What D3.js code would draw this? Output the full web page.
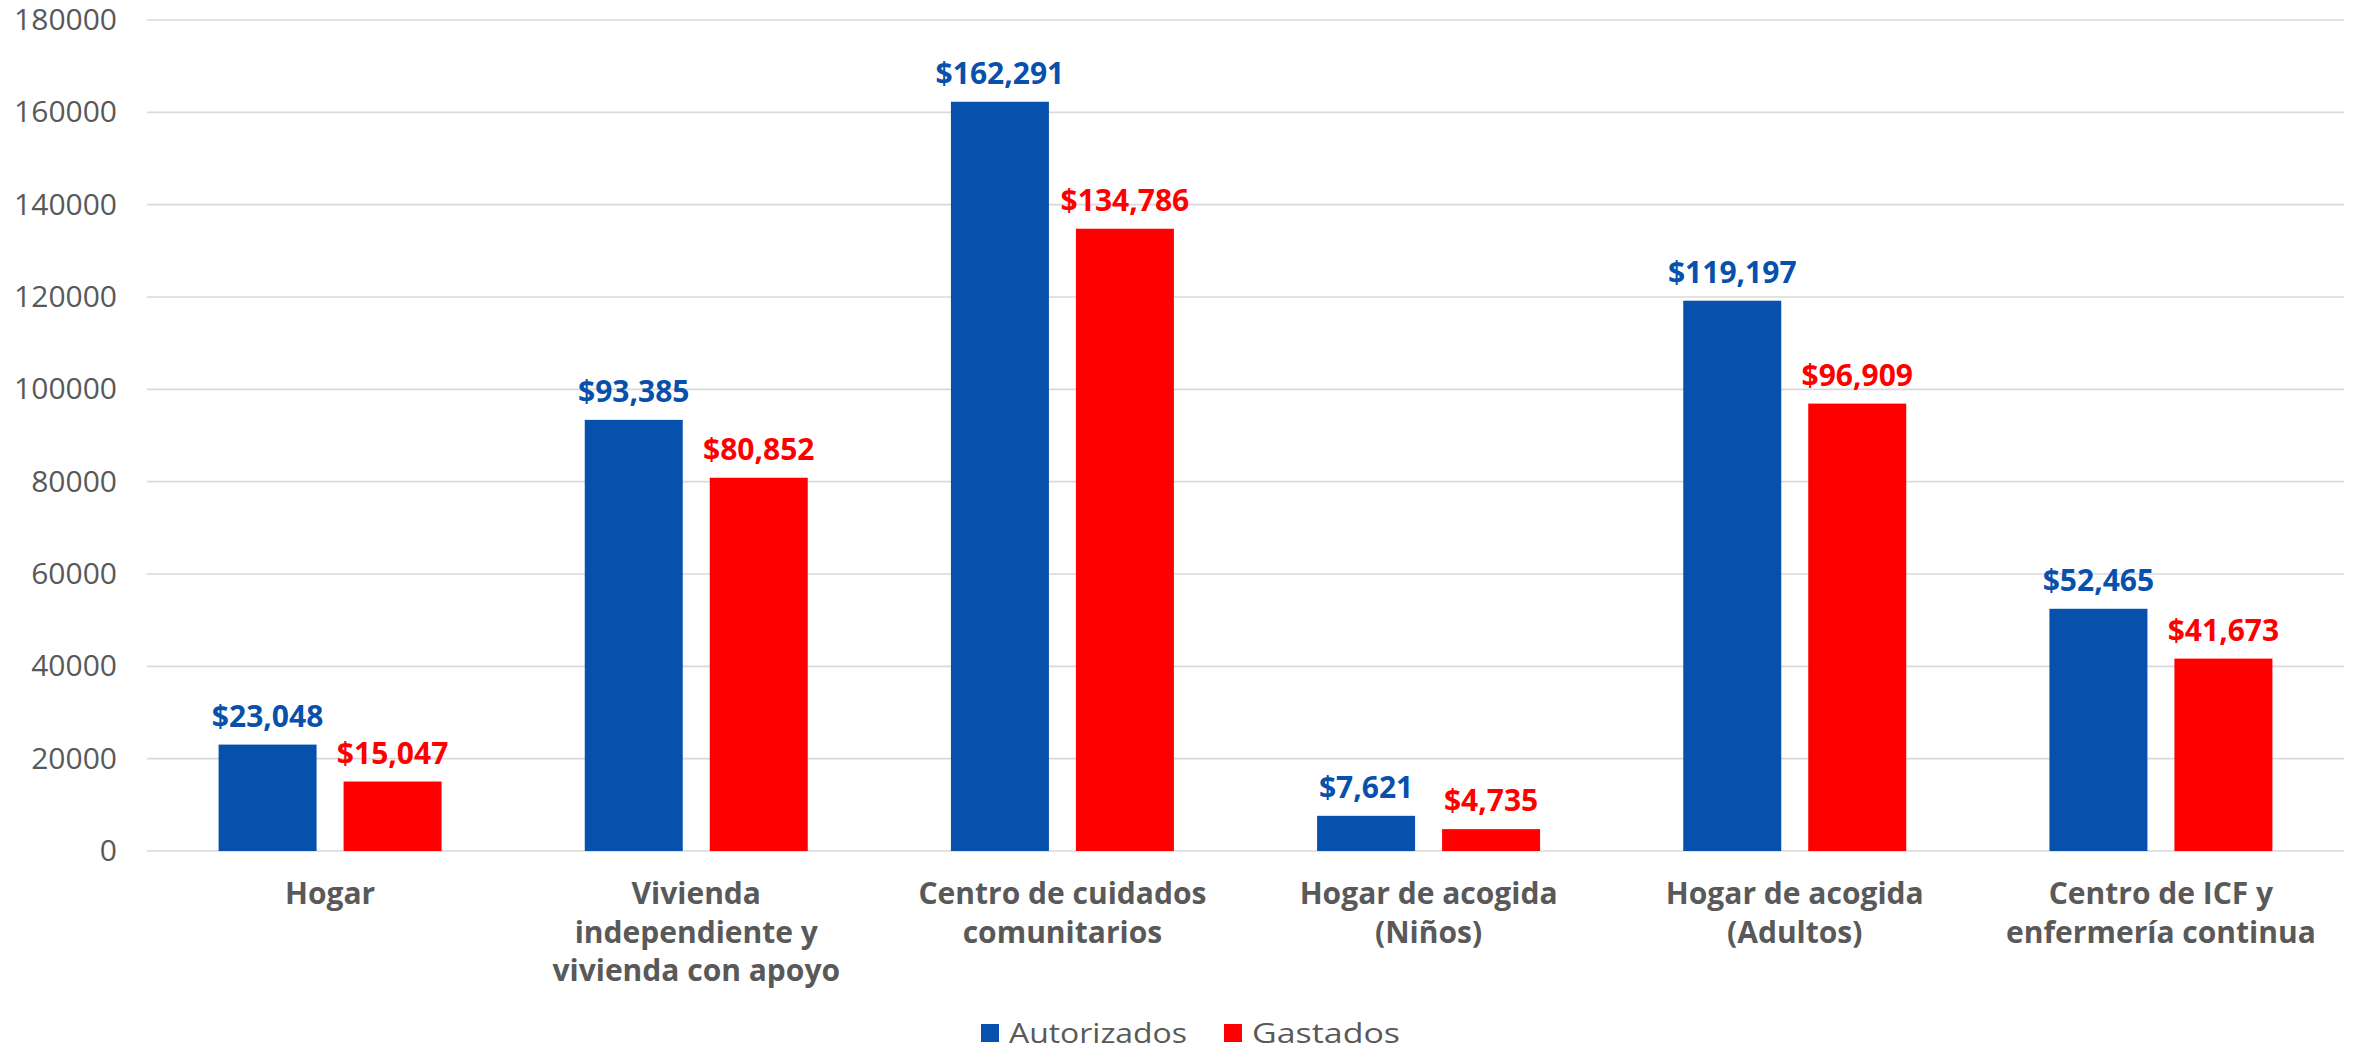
<!DOCTYPE html>
<html>
<head>
<meta charset="utf-8">
<script src="https://cdn.jsdelivr.net/npm/d3@7"></script>
<style>
  html, body { margin: 0; padding: 0; background: #fff; }
  svg { display: block; font-family: "Open Sans", sans-serif; }
</style>
</head>
<body>
<svg id="chart" width="2359" height="1047"></svg>
<script>
// Categories (each label split into display lines)
const categories = [
  ["Hogar"],
  ["Vivienda", "independiente y", "vivienda con apoyo"],
  ["Centro de cuidados", "comunitarios"],
  ["Hogar de acogida", "(Niños)"],
  ["Hogar de acogida", "(Adultos)"],
  ["Centro de ICF y", "enfermería continua"]
];
const seriesNames = ["Autorizados", "Gastados"];
const autorizados = [23048, 93385, 162291, 7621, 119197, 52465];
const gastados = [15047, 80852, 134786, 4735, 96909, 41673];
const yTicks = [0, 20000, 40000, 60000, 80000, 100000, 120000, 140000, 160000, 180000];
const colors = ["#0750AC", "#FF0000"];

const svg = d3.select("#chart");
const margin = { left: 147, right: 15, top: 20, bottom: 196 };
const W = 2359, H = 1047;
const plotW = W - margin.left - margin.right;
const plotH = H - margin.top - margin.bottom;

const g = svg.append("g").attr("transform", `translate(${margin.left},${margin.top})`);

const x0 = d3.scaleBand().domain(d3.range(categories.length)).range([0, plotW]).padding(0);
// Pair of bars sits in the middle ~61% of each category band
const pairW = x0.bandwidth() * 0.609;
const pairOff = (x0.bandwidth() - pairW) / 2;
const x1 = d3.scaleBand().domain([0, 1]).range([pairOff, pairOff + pairW]).paddingInner(0.216).paddingOuter(0);
const y = d3.scaleLinear().domain([0, 180000]).range([plotH, 0]);

// Horizontal gridlines
g.append("g").selectAll("line").data(yTicks).join("line")
  .attr("x1", 0).attr("x2", plotW)
  .attr("y1", d => y(d)).attr("y2", d => y(d))
  .attr("stroke", "#d9d9d9").attr("stroke-width", 1.6);

// Y axis labels
const yAxis = g.append("g").call(d3.axisLeft(y).tickValues(yTicks).tickSize(0).tickPadding(30).tickFormat(d3.format("d")));
yAxis.select(".domain").remove();
yAxis.selectAll("text")
  .attr("font-family", "Open Sans").attr("font-size", 30).attr("fill", "#595959");

// Bars with value labels
const series = [autorizados, gastados];
const groups = g.append("g").selectAll("g").data(series).join("g")
  .attr("fill", (d, i) => colors[i]);
groups.each(function(vals, si) {
  const sel = d3.select(this);
  sel.selectAll("rect").data(vals).join("rect")
    .attr("x", (d, ci) => x0(ci) + x1(si))
    .attr("width", x1.bandwidth())
    .attr("y", d => y(d))
    .attr("height", d => plotH - y(d));
  sel.selectAll("text").data(vals).join("text")
    .attr("x", (d, ci) => x0(ci) + x1(si) + x1.bandwidth() / 2)
    .attr("y", d => y(d) - 18)
    .attr("text-anchor", "middle")
    .attr("font-family", "Open Sans").attr("font-weight", 700).attr("font-size", 30)
    .attr("fill", colors[si])
    .text(d => "$" + d3.format(",")(d));
});

// Category labels
const cat = g.append("g").selectAll("text").data(categories).join("text")
  .attr("text-anchor", "middle")
  .attr("font-family", "Open Sans").attr("font-weight", 700).attr("font-size", 30)
  .attr("fill", "#595959");
cat.each(function(lines, ci) {
  d3.select(this).selectAll("tspan").data(lines).join("tspan")
    .attr("x", x0(ci) + x0.bandwidth() / 2)
    .attr("y", (d, li) => plotH + 53 + li * 38.5)
    .text(d => d);
});

// Legend
const legend = svg.append("g").attr("transform", "translate(981,1024)");
const legendX = [0, 243];
const legendLen = [178, 148];
seriesNames.forEach((name, i) => {
  const item = legend.append("g").attr("transform", `translate(${legendX[i]},0)`);
  item.append("rect").attr("width", 18).attr("height", 18).attr("fill", colors[i]);
  item.append("text").attr("x", 28).attr("y", 19)
    .attr("font-family", "Open Sans").attr("font-size", 28).attr("fill", "#595959")
    .attr("textLength", legendLen[i]).attr("lengthAdjust", "spacingAndGlyphs")
    .text(name);
});
</script>
</body>
</html>
